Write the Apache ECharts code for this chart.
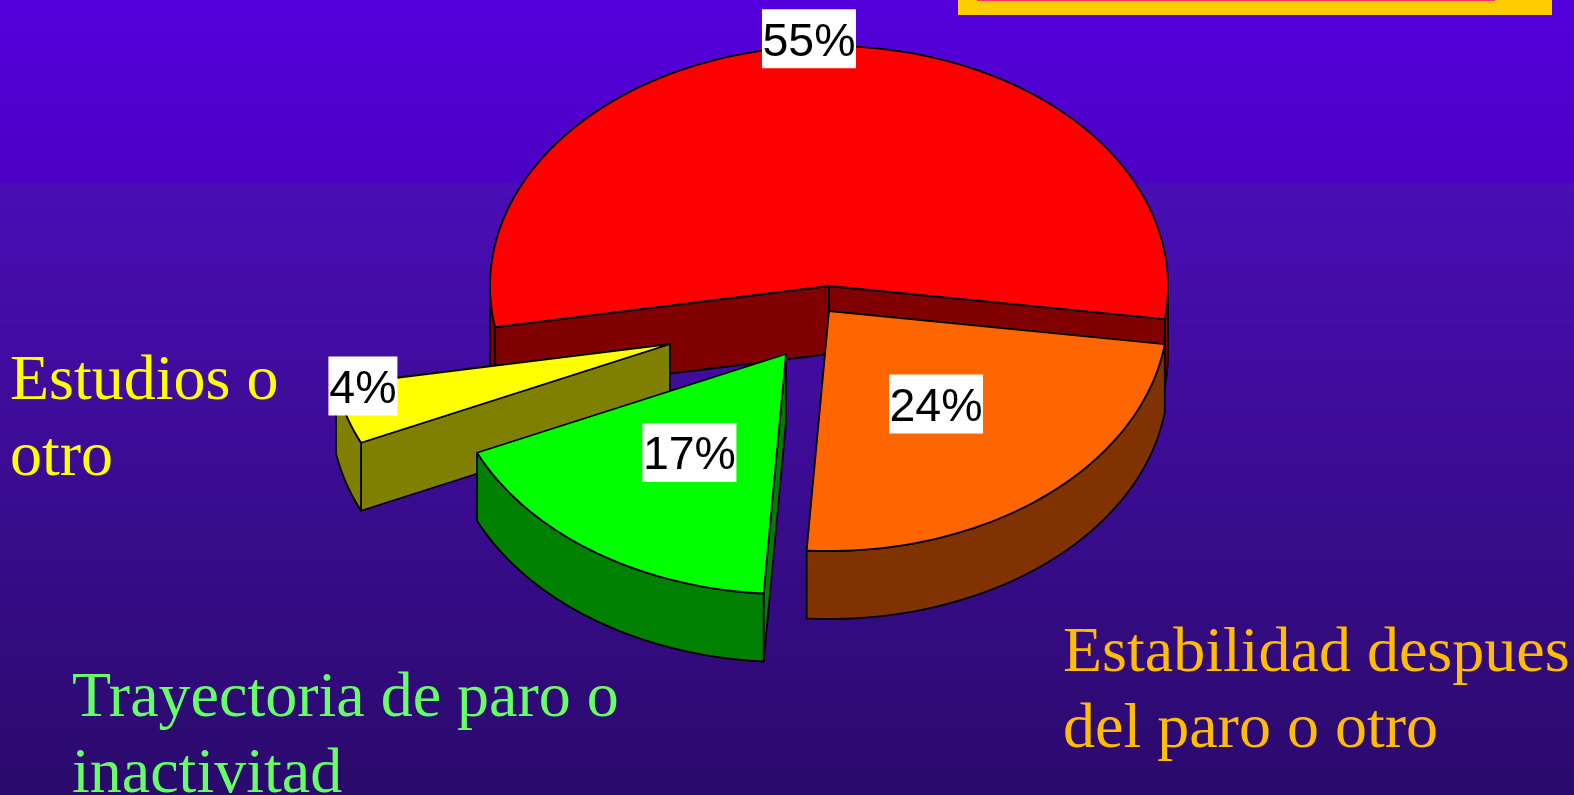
<!DOCTYPE html>
<html>
<head>
<meta charset="utf-8">
<style>html,body{margin:0;padding:0;overflow:hidden}#c{width:1574px;height:795px}</style>
<script src="https://cdn.jsdelivr.net/npm/echarts@6/dist/echarts.min.js"></script>
</head>
<body>
<div id="c"></div>
<script>
// ---- data ----
const categories = ['Resto', 'Estabilidad despues\ndel paro o otro', 'Trayectoria de paro o\ninactivitad', 'Estudios o\notro'];
const shares = [54.95, 23.85, 17.2, 4.0];
const shareLabels = ['55%', '24%', '17%', '4%'];

// ---- styles ----
const topColors = ['#FF0000', '#FF6600', '#00FF00', '#FFFF00'];
const wallColors = ['#800000', '#803300', '#008000', '#808000'];
const textColors = [null, '#FFBC00', '#66FF66', '#FFFF00'];

// ---- layout ----
const CX = 829, CY = 286, RX = 339, RY = 240, DEPTH = 68;
const START_DEG = 170.1;
const explodeX = [0, 0, -43, -159];
const explodeY = [0, 25, 68, 58];
const drawRank = [0, 3, 2, 1];
const labelFrac = [1.03, 0.5, 0.5, 0.92];
const labelNudgeX = [-14, 0, 0, -9];
const labelNudgeY = [0, 0, 0, -23];
const labelBoxW = [94, 94, 94, 69];
const nameX = [0, 1063, 72, 10];
const nameY = [0, 616, 661, 344];
const FONT_LABEL = 46.5, BOX_H = 59, LABEL_TEXT_DY = 4, NAME_FONT = 64, NAME_LH = 76;

const total = shares.reduce((a, b) => a + b, 0);
const rad = d => d * Math.PI / 180;
function ell(cx, cy, t) { return [cx + RX * Math.cos(rad(t)), cy + RY * Math.sin(rad(t))]; }
function arc(cx, cy, a, b) {
  const out = [];
  for (let t = a; t < b; t += 1.5) out.push(ell(cx, cy, t));
  out.push(ell(cx, cy, b));
  return out;
}
const poly = (pts, fill, z2) => ({
  type: 'polygon', z2, shape: { points: pts },
  style: { fill, stroke: '#000', lineWidth: 1.8, lineJoin: 'round' }
});
// a cut face shows only when the slice's top lies on the far side of its edge
function faceShows(apex, p, inner) {
  const ex = p[0] - apex[0], ey = p[1] - apex[1];
  const crossDown = ex;                                    // edge x (0,1)
  const crossIn = ex * (inner[1] - apex[1]) - ey * (inner[0] - apex[0]);
  return crossDown * crossIn < 0;
}

function renderSlice(params, api) {
  const i = params.dataIndex;
  const value = api.value(0);
  let before = 0;
  for (let k = 0; k < i; k++) before += shares[k];
  const a = START_DEG + before / total * 360;
  const b = a + value / total * 360;
  const cx = CX + explodeX[i], cy = CY + explodeY[i];
  const children = [];
  const wall = wallColors[i];
  const top = topColors[i];
  const apex = [cx, cy], apexLow = [cx, cy + DEPTH];
  const pA = ell(cx, cy, a), pB = ell(cx, cy, b);
  const low = p => [p[0], p[1] + DEPTH];
  const z = drawRank[i] * 10;

  // cut faces first, then rim, then top
  if (faceShows(apex, pA, ell(cx, cy, a + 1))) children.push(poly([apex, pA, low(pA), apexLow], wall, z));
  if (faceShows(apex, pB, ell(cx, cy, b - 1))) children.push(poly([apex, pB, low(pB), apexLow], wall, z));
  // outer wall: only the front half of the rim (sin t > 0) can be seen
  for (let off = 0; off <= 360; off += 360) {
    const s = Math.max(a, off), e = Math.min(b, off + 180);
    if (s < e) {
      const rim = arc(cx, cy, s, e);
      children.push(poly(rim.concat(rim.map(low).reverse()), wall, z + 1));
    }
  }
  children.push(poly([apex].concat(arc(cx, cy, a, b)), top, z + 2));
  return { type: 'group', children };
}

function renderLabel(params, api) {
  const i = params.dataIndex;
  let before = 0;
  for (let k = 0; k < i; k++) before += shares[k];
  const mid = START_DEG + (before + api.value(0) / 2) / total * 360;
  const x = CX + explodeX[i] + RX * labelFrac[i] * Math.cos(rad(mid)) + labelNudgeX[i];
  const y = CY + explodeY[i] + RY * labelFrac[i] * Math.sin(rad(mid)) + labelNudgeY[i];
  const children = [
    { type: 'rect', z2: 1,
      shape: { x: x - labelBoxW[i] / 2, y: y - BOX_H / 2, width: labelBoxW[i], height: BOX_H },
      style: { fill: '#fff' } },
    { type: 'text', z2: 2, x, y: y + LABEL_TEXT_DY,
      style: {
        text: shareLabels[i], fill: '#000', font: FONT_LABEL + 'px "Liberation Sans", Arial, sans-serif',
        align: 'center', verticalAlign: 'middle'
      } }
  ];
  if (textColors[i]) {
    children.push({
      type: 'text', x: nameX[i], y: nameY[i],
      style: {
        text: categories[i], fill: textColors[i],
        font: NAME_FONT + 'px "Liberation Serif", "Times New Roman", serif',
        lineHeight: NAME_LH, align: 'left', verticalAlign: 'top'
      }
    });
  }
  return { type: 'group', children };
}

const seriesData = shares.map((v, i) => ({ name: categories[i], value: [v] }));

const chart = echarts.init(document.getElementById('c'), null, { renderer: 'canvas' });
chart.setOption({
  animation: false,
  backgroundColor: {
    type: 'linear', x: 0, y: 0, x2: 0, y2: 1,
    colorStops: [
      { offset: 0, color: '#5500DD' },
      { offset: 0.23, color: '#4C00C4' },
      { offset: 0.231, color: '#4A0DB6' },
      { offset: 1, color: '#2A0A6B' }
    ]
  },
  graphic: [
    { type: 'rect', shape: { x: 958, y: 0, width: 594, height: 15 }, style: { fill: '#FFCC00' }, silent: true },
    { type: 'rect', shape: { x: 977, y: 0, width: 518, height: 1 }, style: { fill: '#FF3366' }, silent: true }
  ],
  series: [
    { type: 'custom', coordinateSystem: 'none', silent: true, renderItem: renderSlice, data: seriesData, z: 2 },
    { type: 'custom', coordinateSystem: 'none', silent: true, renderItem: renderLabel, data: seriesData, z: 3 }
  ]
});
</script>
</body>
</html>
